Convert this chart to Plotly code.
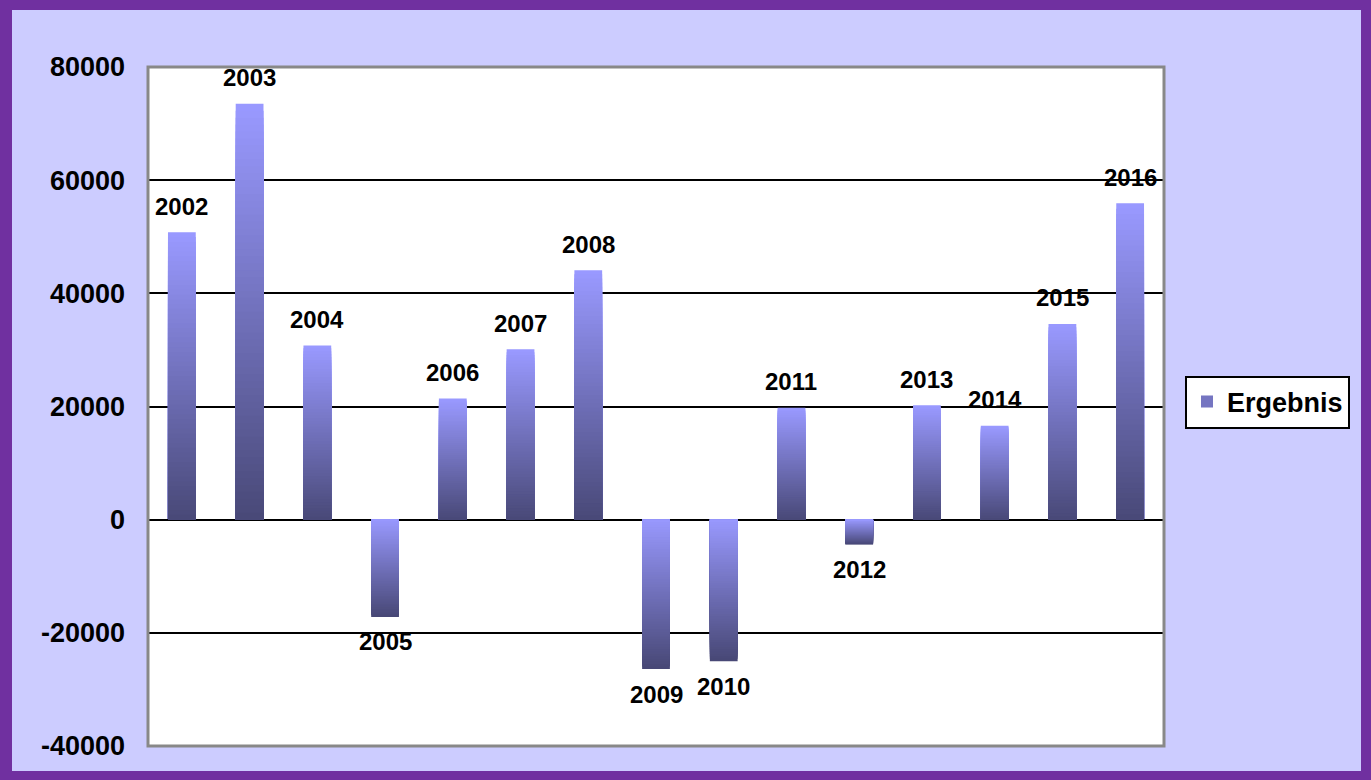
import plotly.graph_objects as go

# ---- data ----
years = ["2002", "2003", "2004", "2005", "2006", "2007", "2008", "2009",
         "2010", "2011", "2012", "2013", "2014", "2015", "2016"]
ergebnis = [50800, 73500, 30800, -17200, 21400, 30100, 44100, -26400,
            -25000, 19800, -4400, 20200, 16600, 34600, 55900]
series_name = "Ergebnis"
tick_values = [-40000, -20000, 0, 20000, 40000, 60000, 80000]
tick_labels = ["-40000", "-20000", "0", "20000", "40000", "60000", "80000"]

# ---- style ----
W, H = 1371, 780
ML, MR, MT, MB = 148, 207, 67, 34
PW, PH = W - ML - MR, H - MT - MB
FONT = "Arial, Liberation Sans, sans-serif"
LIGHT = (153, 153, 255)
DARK = (72, 72, 118)
N = 60


def mix(f):
    # f = 1 -> light, f = 0 -> dark
    c = [round(DARK[i] + (LIGHT[i] - DARK[i]) * f) for i in range(3)]
    return "rgb(%d,%d,%d)" % tuple(c)


def px_x(p):
    return (p - ML) / PW


def px_y(p):
    return (H - MB - p) / PH


fig = go.Figure()

# gradient bars built as overlaid, shrinking bars
for k in range(N):
    frac = (N - k) / N
    ys = [v * frac for v in ergebnis]
    cols = [mix(frac) if v >= 0 else mix(1 - frac) for v in ergebnis]
    fig.add_trace(go.Bar(
        x=years, y=ys, width=0.41,
        marker=dict(color=cols, line=dict(width=0)),
        showlegend=False, hoverinfo="skip",
    ))

# legend entry
fig.add_trace(go.Bar(
    x=[None], y=[None], name=series_name,
    marker=dict(color=mix(0.55), line=dict(width=0)),
    showlegend=True,
))

# data labels (category names)
for i, (yr, v) in enumerate(zip(years, ergebnis)):
    fig.add_annotation(
        x=i, y=v, text=yr, showarrow=False,
        xref="x", yref="y",
        yanchor="middle", yshift=26 if v >= 0 else -25,
        font=dict(family=FONT, size=24, color="black", weight="bold"),
    )

shapes = [
    # plot area frame
    dict(type="rect", xref="paper", yref="paper", x0=0, x1=1, y0=0, y1=1,
         line=dict(color="#888888", width=3), layer="above"),
]
purple = "#7030A0"
for (x0, x1, y0, y1) in [(0, 12, 0, H), (W - 10, W, 0, H), (0, W, 0, 10), (0, W, H - 9, H)]:
    shapes.append(dict(type="rect", xref="paper", yref="paper",
                       x0=px_x(x0), x1=px_x(x1), y0=px_y(y1), y1=px_y(y0),
                       fillcolor=purple, line=dict(width=0), layer="above"))

fig.update_layout(
    width=W, height=H,
    margin=dict(l=ML, r=MR, t=MT, b=MB, pad=0),
    paper_bgcolor="#CCCCFF", plot_bgcolor="white",
    barmode="overlay",
    shapes=shapes,
    showlegend=True,
    legend=dict(
        x=px_x(1185), xanchor="left", y=px_y(402), yanchor="middle",
        bgcolor="white", bordercolor="black", borderwidth=2,
        font=dict(family=FONT, size=27, color="black", weight="bold"),
        itemwidth=30,
    ),
    xaxis=dict(type="category", showticklabels=False, showgrid=False,
               zeroline=False, ticks="", range=[-0.5, len(years) - 0.5]),
    yaxis=dict(range=[-40000, 80000], tickvals=tick_values, ticktext=tick_labels,
               showgrid=True, gridcolor="black", gridwidth=2,
               zeroline=True, zerolinecolor="black", zerolinewidth=2,
               ticks="", ticklabelstandoff=22,
               tickfont=dict(family=FONT, size=27, color="black", weight="bold")),
)

fig.write_html("out.html")
